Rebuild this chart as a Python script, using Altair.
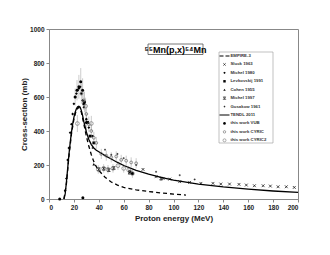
import altair as alt
import pandas as pd

FONT = "Liberation Sans"

# ---- model curves ----
tendl_x = [12, 13, 14, 15, 16, 17, 18, 19, 20, 21, 22, 23, 24, 25, 26, 27, 28, 29, 30, 32, 34, 36, 38, 40,
           45, 50, 55, 60, 70, 80, 90, 100, 120, 140, 160, 180, 200]
tendl_y = [0, 30, 100, 180, 260, 330, 390, 440, 480, 510, 530, 542, 546, 540, 520, 490, 455, 425, 395, 350,
           320, 300, 287, 278, 255, 235, 215, 197, 168, 146, 127, 111, 88, 71, 58, 47, 39]

empire_x = [12, 14, 16, 18, 20, 22, 24, 26, 28, 30, 32, 34, 36, 38, 40, 45, 50, 55, 60, 70, 80, 90, 100, 110]
empire_y = [0, 90, 250, 380, 470, 525, 540, 510, 440, 370, 310, 260, 220, 190, 168, 128, 100, 82, 68, 54,
            44, 36, 29, 23]

# ---- experimental data ----
sluck_x = [75.5, 86, 91.6, 97, 105, 113, 122, 131.7, 138, 145, 152.6, 158.5, 165, 172, 177.8, 184, 190.6, 197]
sluck_y = [174, 131, 121, 117, 102, 98, 92, 92, 88, 88, 86, 82, 78, 78, 76, 72, 72, 68]

michel80_x = [13, 14, 15, 16, 17, 18, 19, 20, 21, 22, 23, 24, 25, 26, 27, 28, 30, 32, 35]
michel80_y = [50, 120, 230, 300, 390, 440, 500, 560, 600, 620, 640, 650, 660, 620, 580, 540, 470, 420, 370]

levk_x = [28, 31, 33, 36, 65, 67]
levk_y = [560, 450, 370, 330, 160, 150]

cohen_x = [30, 36]
cohen_y = [470, 205]

michel97_x = [40, 44, 48, 52, 64.8, 90]
michel97_y = [175, 178, 170, 182, 155, 120]

gusakow_x = [35, 45, 50, 55, 60, 70, 86, 105, 117]
gusakow_y = [300, 290, 260, 265, 240, 200, 160, 140, 115]

vub_x = [8.6, 21, 22.5, 24, 25.5, 27, 27.2, 28.5, 30]
vub_y = [0, 600, 640, 660, 690, 640, 8, 570, 450]
vub_e = [0, 50, 60, 70, 80, 70, 0, 60, 50]

cyric_x = [26, 28, 30, 32, 34, 36, 38, 42, 46, 50, 54, 58, 62, 66, 70]
cyric_y = [620, 580, 500, 440, 400, 360, 330, 265, 255, 245, 250, 230, 225, 215, 210]
cyric_e = [60, 55, 50, 45, 40, 35, 35, 30, 30, 30, 30, 30, 30, 30, 30]

cyric2_x = [22.8, 29.4, 34, 39.6, 43.9, 47.4, 51.4, 55.4, 60, 64, 67]
cyric2_y = [444, 546, 444, 174, 180, 175, 180, 196, 180, 170, 150]
cyric2_e = [50, 50, 45, 25, 25, 25, 25, 25, 25, 25, 25]

xscale = alt.Scale(domain=[0, 200], nice=False, zero=False)
yscale = alt.Scale(domain=[0, 1000], nice=False)
xaxis = alt.Axis(title="Proton energy (MeV)", values=list(range(0, 201, 20)), format="d")
yaxis = alt.Axis(title="Cross-section (mb)", values=list(range(0, 1001, 200)), format="d")


def X():
    return alt.X("x:Q", scale=xscale, axis=xaxis)


def Y(field="y"):
    return alt.Y(f"{field}:Q", scale=yscale, axis=yaxis)


X_SHAPE = "M-1,-1L1,1M-1,1L1,-1"
XBAR_SHAPE = "M-1,-1L1,-1M-1,1L1,1M-1,-1L1,1M-1,1L1,-1"
PLUS_SHAPE = "M0,-1L0,1M-1,0L1,0"

layers = []


def errbars(xs, ys, es):
    df = pd.DataFrame({"x": xs, "lo": [a - b for a, b in zip(ys, es)], "hi": [a + b for a, b in zip(ys, es)]})
    df = df[df["hi"] > df["lo"]]
    return alt.Chart(df).mark_rule(color="#aaaaaa", strokeWidth=0.6).encode(
        x=X(), y=Y("lo"), y2="hi")


def points(xs, ys, shape, size, filled, color="black", sw=0.8):
    df = pd.DataFrame({"x": xs, "y": ys})
    return alt.Chart(df).mark_point(shape=shape, size=size, filled=filled, color=color,
                                    strokeWidth=sw, opacity=1).encode(x=X(), y=Y())


def line(xs, ys, dash=None, width=1.3):
    df = pd.DataFrame({"x": xs, "y": ys})
    kw = dict(color="black", strokeWidth=width)
    if dash:
        kw["strokeDash"] = dash
    return alt.Chart(df).mark_line(**kw).encode(x=X(), y=Y())


layers.append(errbars(vub_x, vub_y, vub_e))
layers.append(errbars(cyric_x, cyric_y, cyric_e))
layers.append(errbars(cyric2_x, cyric2_y, cyric2_e))
layers.append(line(empire_x, empire_y, dash=[4, 3]))
layers.append(line(tendl_x, tendl_y))
layers.append(points(sluck_x, sluck_y, X_SHAPE, 8, False, sw=0.7))
layers.append(points(michel80_x, michel80_y, "diamond", 8, True))
layers.append(points(levk_x, levk_y, "square", 8, True))
layers.append(points(cohen_x, cohen_y, "triangle-up", 8, True))
layers.append(points(michel97_x, michel97_y, XBAR_SHAPE, 8, False, sw=0.7))
layers.append(points(gusakow_x, gusakow_y, PLUS_SHAPE, 4, False, sw=0.6))
layers.append(points(vub_x, vub_y, "circle", 9, True))
layers.append(points(cyric_x, cyric_y, "circle", 8, False, color="#666666", sw=0.7))
layers.append(points(cyric2_x, cyric2_y, "circle", 14, False, color="#777777", sw=0.7))

# ---- title box ----
one = pd.DataFrame({"a": [0]})
layers.append(alt.Chart(one).mark_rect(fill="white", stroke="#555555", strokeWidth=0.8).encode(
    x=alt.value(99), x2=alt.value(154), y=alt.value(15), y2=alt.value(25.5)))
layers.append(alt.Chart(one).mark_text(text="⁵⁵Mn(p,x)⁵⁴Mn", font=FONT, fontSize=9, fontWeight="bold",
                                       color="black", align="center", baseline="middle").encode(
    x=alt.value(126.5), y=alt.value(20.5)))

# ---- legend ----
leg_labels = ["EMPIRE-3", "Sluck 1963", "Michel 1980", "Levkovskij 1991", "Cohen 1955", "Michel 1997",
              "Gusakow 1961", "TENDL 2011", "this work VUB", "this work CYRIC", "this work CYRIC2"]
layers.append(alt.Chart(one).mark_rect(fill="white", stroke="#999999", strokeWidth=0.6).encode(
    x=alt.value(170), x2=alt.value(224), y=alt.value(23), y2=alt.value(114)))
leg_sym = [("line", [4, 2]), (X_SHAPE, 6, False, "black"), ("diamond", 6, True, "black"),
           ("square", 6, True, "black"), ("triangle-up", 6, True, "black"), (XBAR_SHAPE, 6, False, "black"),
           (PLUS_SHAPE, 3, False, "black"), ("line", None), ("circle", 7, True, "black"),
           ("circle", 6, False, "#666666"), ("circle", 9, False, "#777777")]
for i, (lab, sym) in enumerate(zip(leg_labels, leg_sym)):
    yy = 27 + i * 8.43
    if sym[0] == "line":
        kw = dict(color="black", strokeWidth=1)
        if sym[1]:
            kw["strokeDash"] = sym[1]
        layers.append(alt.Chart(one).mark_rule(**kw).encode(
            x=alt.value(170.5), x2=alt.value(180.5), y=alt.value(yy)))
    else:
        layers.append(alt.Chart(one).mark_point(shape=sym[0], size=sym[1], filled=sym[2], color=sym[3],
                                                strokeWidth=0.6, opacity=1).encode(
            x=alt.value(175.5), y=alt.value(yy)))
    layers.append(alt.Chart(one).mark_text(text=lab, font=FONT, fontSize=4.3, fontWeight="bold",
                                           color="#333333", align="left", baseline="middle").encode(
        x=alt.value(181.5), y=alt.value(yy)))

chart = alt.layer(*layers).properties(
    width=249, height=170,
    autosize=alt.AutoSizeParams(type="none"),
    padding={"left": 41, "top": 21, "right": 24, "bottom": 40},
).configure_view(stroke="#888888", strokeWidth=1).configure_axis(
    grid=False, labelFont=FONT, titleFont=FONT, labelFontSize=6.5, labelFontWeight="bold",
    titleFontSize=8, titleFontWeight="bold", labelColor="#222222", titleColor="#222222",
    domainColor="#888888", tickColor="#888888", tickSize=3, labelPadding=2,
).configure_axisX(titlePadding=4).configure_axisY(titlePadding=1)

chart.save("out.html", embed_options={"renderer": "svg", "actions": False})
